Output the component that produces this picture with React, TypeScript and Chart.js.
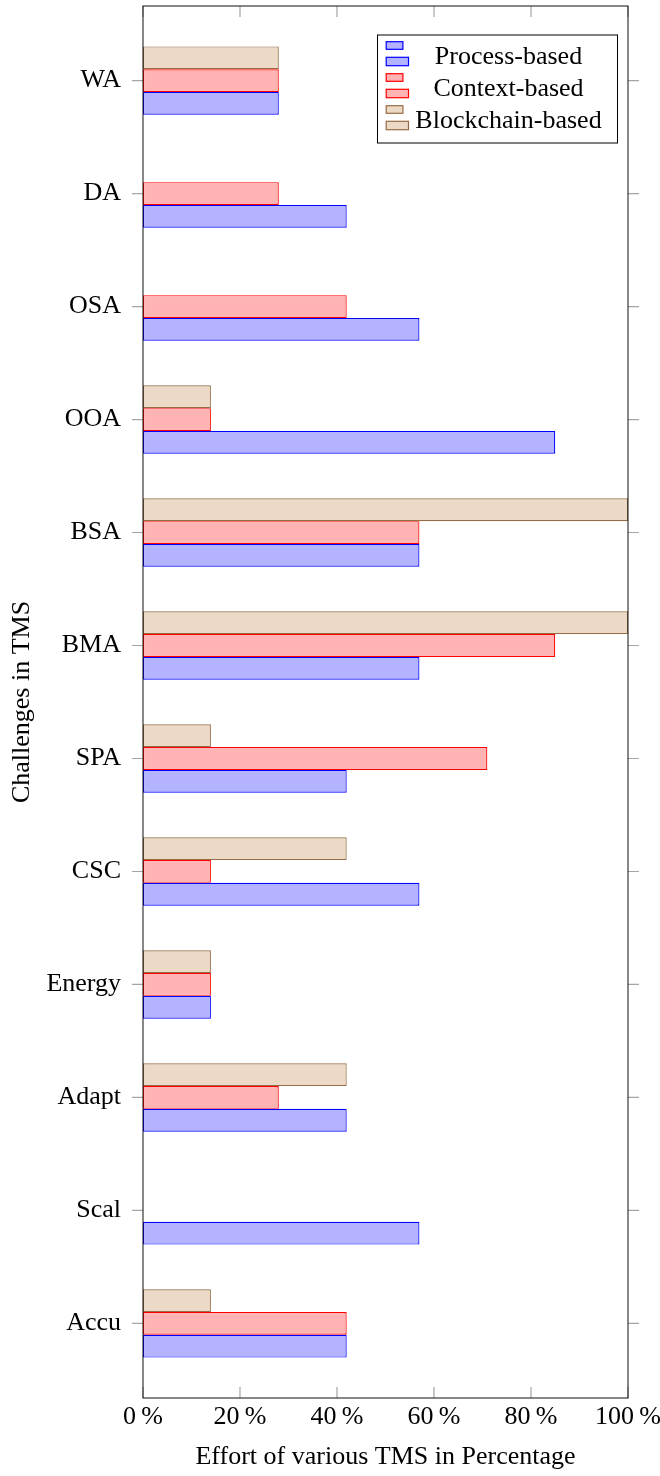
import React, { useEffect, useRef } from 'react';
import { Chart, registerables } from 'chart.js';

Chart.register(...registerables);

const categories = ['WA', 'DA', 'OSA', 'OOA', 'BSA', 'BMA', 'SPA', 'CSC', 'Energy', 'Adapt', 'Scal', 'Accu'];
const processValues = [28, 42, 57, 85, 57, 57, 42, 57, 14, 42, 57, 42];
const contextValues = [28, 28, 42, 14, 57, 85, 71, 14, 14, 28, 0, 42];
const blockchainValues = [28, 0, 0, 14, 100, 100, 14, 42, 14, 42, 0, 14];
const xTickValues = [0, 20, 40, 60, 80, 100];
const seriesNames = ['Process-based', 'Context-based', 'Blockchain-based'];
const xTitle = 'Effort of various TMS in Percentage';
const yTitle = 'Challenges in TMS';

const FONT = "'Liberation Serif', 'Times New Roman', serif";

const framePlugin = {
  id: 'frameTicks',
  afterDatasetsDraw(chart: any) {
    const { ctx, chartArea: a, scales } = chart;
    const x = scales.x;
    const y = scales.y;
    ctx.save();
    ctx.strokeStyle = 'rgb(165,165,165)';
    ctx.lineWidth = 1.2;
    ctx.beginPath();
    x.ticks.forEach((t: any) => {
      const px = x.getPixelForValue(t.value);
      ctx.moveTo(px, a.top);
      ctx.lineTo(px, a.top + 11);
      ctx.moveTo(px, a.bottom);
      ctx.lineTo(px, a.bottom - 11);
    });
    y.ticks.forEach((t: any) => {
      const py = y.getPixelForValue(t.value);
      ctx.moveTo(a.left - 11, py);
      ctx.lineTo(a.left, py);
      ctx.moveTo(a.right, py);
      ctx.lineTo(a.right + 11, py);
    });
    ctx.stroke();
    ctx.strokeStyle = '#111';
    ctx.lineWidth = 1;
    ctx.strokeRect(a.left, a.top, a.right - a.left, a.bottom - a.top);
    ctx.restore();
  },
};

const legendPlugin = {
  id: 'boxLegend',
  afterDraw(chart: any) {
    const { ctx, chartArea: a } = chart;
    const boxW = 240;
    const boxH = 108;
    const bx = a.right - 10.5 - boxW;
    const by = a.top + 29;
    ctx.save();
    ctx.fillStyle = '#fff';
    ctx.fillRect(bx, by, boxW, boxH);
    ctx.strokeStyle = '#000';
    ctx.lineWidth = 1;
    ctx.strokeRect(bx, by, boxW, boxH);
    ctx.font = `26px ${FONT}`;
    ctx.textAlign = 'center';
    ctx.textBaseline = 'middle';
    const order = chart.data.datasets.map((_: any, i: number) => i).reverse();
    order.forEach((di: number, row: number) => {
      const ds = chart.data.datasets[di];
      const cy = by + 21 + row * 32;
      ctx.fillStyle = ds.backgroundColor;
      ctx.strokeStyle = ds.borderColor;
      ctx.lineWidth = 1.2;
      ctx.fillRect(bx + 8.7, cy - 14.3, 16.7, 7.6);
      ctx.strokeRect(bx + 8.7, cy - 14.3, 16.7, 7.6);
      ctx.fillRect(bx + 8.7, cy + 1.3, 22.3, 8.4);
      ctx.strokeRect(bx + 8.7, cy + 1.3, 22.3, 8.4);
      ctx.fillStyle = '#000';
      ctx.fillText(ds.label, bx + 131, cy + 1);
    });
    ctx.restore();
  },
};

export default function App() {
  const ref = useRef<HTMLCanvasElement | null>(null);

  useEffect(() => {
    document.body.style.margin = '0';
    const canvas = ref.current;
    if (!canvas) return;
    const toPts = (vals: number[]) => vals.map((v, i) => ({ x: v, y: i }));
    const chart = new Chart(canvas, {
      type: 'bar',
      data: {
        datasets: [
          {
            label: seriesNames[2],
            data: toPts(blockchainValues),
            backgroundColor: 'rgb(236,217,198)',
            borderColor: 'rgb(150,108,70)',
            borderWidth: 1.2,
            borderSkipped: false,
          },
          {
            label: seriesNames[1],
            data: toPts(contextValues),
            backgroundColor: 'rgb(255,179,179)',
            borderColor: 'rgb(255,0,0)',
            borderWidth: 1.2,
            borderSkipped: false,
          },
          {
            label: seriesNames[0],
            data: toPts(processValues),
            backgroundColor: 'rgb(179,179,255)',
            borderColor: 'rgb(0,0,255)',
            borderWidth: 1.2,
            borderSkipped: false,
          },
        ] as any,
      },
      options: {
        indexAxis: 'y',
        responsive: false,
        animation: false,
        layout: { padding: { top: 6, right: 32, left: 0, bottom: 0 } },
        datasets: { bar: { categoryPercentage: 0.605, barPercentage: 1 } } as any,
        plugins: { legend: { display: false }, tooltip: { enabled: false } },
        scales: {
          x: {
            type: 'linear',
            position: 'bottom',
            min: 0,
            max: 100,
            afterBuildTicks: (s: any) => {
              s.ticks = xTickValues.map((v) => ({ value: v }));
            },
            grid: { display: false, drawTicks: false },
            border: { display: false },
            ticks: {
              font: { size: 26, family: FONT },
              color: '#000',
              padding: 4,
              maxRotation: 0,
              autoSkip: false,
              callback: (v: any) => `${v}\u2009%`,
            },
            title: {
              display: true,
              text: xTitle,
              font: { size: 26, family: FONT },
              color: '#000',
              padding: { top: 0, bottom: 3 },
            },
            afterFit: (s: any) => {
              s.height = 78;
              s.paddingLeft = 0;
              s.paddingRight = 0;
            },
          },
          y: {
            type: 'linear',
            position: 'left',
            offset: false,
            min: -0.66,
            max: 11.66,
            reverse: true,
            afterBuildTicks: (s: any) => {
              s.ticks = categories.map((_, i) => ({ value: i }));
            },
            grid: { display: false, drawTicks: false, offset: false },
            border: { display: false },
            ticks: {
              font: { size: 26, family: FONT },
              color: '#000',
              padding: 22,
              autoSkip: false,
              callback: (v: any) => categories[v] ?? '',
            },
            title: {
              display: true,
              text: yTitle,
              font: { size: 26, family: FONT },
              color: '#000',
              padding: { top: 7, bottom: 0 },
            },
            afterFit: (s: any) => {
              s.width = 143;
              s.paddingTop = 0;
              s.paddingBottom = 0;
            },
          },
        },
      } as any,
      plugins: [framePlugin, legendPlugin],
    });
    return () => chart.destroy();
  }, []);

  return (
    <div style={{ width: 660, height: 1476 }}>
      <canvas ref={ref} width={660} height={1476} style={{ display: 'block' }} />
    </div>
  );
}
